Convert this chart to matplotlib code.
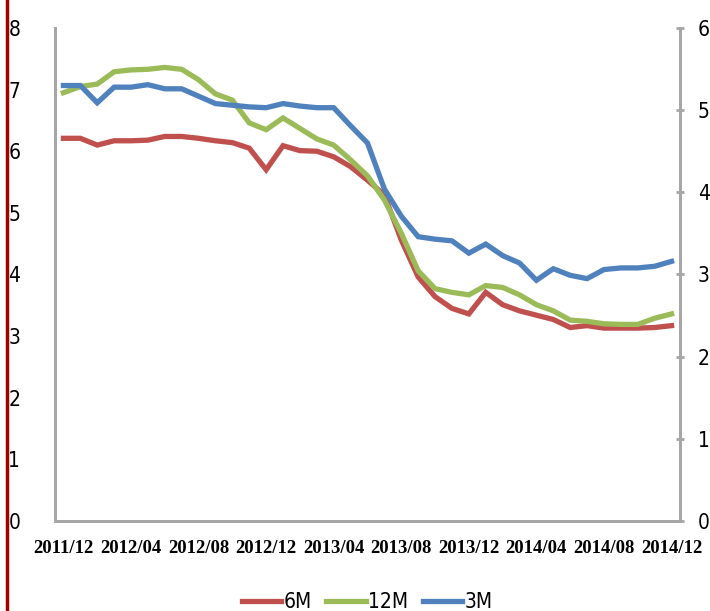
import numpy as np
import matplotlib
matplotlib.use("Agg")
import matplotlib.pyplot as plt
from matplotlib.lines import Line2D
from matplotlib.font_manager import FontProperties

# monthly, 2011/12 .. 2014/12
months = ["2011/12", "2012/01", "2012/02", "2012/03", "2012/04", "2012/05", "2012/06",
          "2012/07", "2012/08", "2012/09", "2012/10", "2012/11", "2012/12",
          "2013/01", "2013/02", "2013/03", "2013/04", "2013/05", "2013/06",
          "2013/07", "2013/08", "2013/09", "2013/10", "2013/11", "2013/12",
          "2014/01", "2014/02", "2014/03", "2014/04", "2014/05", "2014/06",
          "2014/07", "2014/08", "2014/09", "2014/10", "2014/11", "2014/12"]

# left axis
r6m = [6.21, 6.21, 6.10, 6.17, 6.17, 6.18, 6.24, 6.24, 6.21, 6.17, 6.14, 6.05, 5.70,
       6.09, 6.01, 6.00, 5.91, 5.75, 5.53, 5.29, 4.56, 3.96, 3.64, 3.45, 3.36,
       3.71, 3.51, 3.41, 3.34, 3.27, 3.14, 3.17, 3.13, 3.13, 3.13, 3.14, 3.17]
r12m = [6.95, 7.05, 7.09, 7.29, 7.32, 7.33, 7.36, 7.33, 7.16, 6.93, 6.83, 6.46, 6.35,
        6.54, 6.37, 6.20, 6.10, 5.86, 5.60, 5.21, 4.67, 4.06, 3.77, 3.71, 3.67,
        3.82, 3.79, 3.67, 3.51, 3.41, 3.26, 3.24, 3.20, 3.19, 3.19, 3.29, 3.36]
# right axis
r3m = [5.30, 5.30, 5.09, 5.28, 5.28, 5.31, 5.26, 5.26, 5.17, 5.08, 5.06, 5.04, 5.03,
       5.08, 5.05, 5.03, 5.03, 4.81, 4.60, 4.04, 3.71, 3.46, 3.43, 3.41, 3.26,
       3.37, 3.23, 3.14, 2.93, 3.07, 2.99, 2.95, 3.06, 3.08, 3.08, 3.10, 3.16]

c_red = "#C0504D"
c_green = "#9BBB59"
c_blue = "#4F81BD"
grey = "#A6A6A6"
lab_fp = FontProperties(family="DejaVu Sans", stretch="condensed", size=15)

fig = plt.figure(figsize=(7.1, 6.11), dpi=100)
ax = fig.add_axes([55/710, 1 - 521/611, 625/710, 493/611])
ax2 = ax.twinx()

x = np.arange(len(months))
lw = 3.8
ax.plot(x, r6m, color=c_red, lw=lw, solid_joinstyle="miter")
ax.plot(x, r12m, color=c_green, lw=lw, solid_joinstyle="miter")
ax2.plot(x, r3m, color=c_blue, lw=lw, solid_joinstyle="miter")

ax.set_xlim(-0.5, len(months) - 0.5)
ax.set_ylim(0, 8)
ax2.set_ylim(0, 6)

ax.set_xticks(x[::4])
ax.set_xticklabels(months[::4], family="Liberation Serif", weight="bold", fontsize=13.5)
ax.tick_params(axis="x", length=0, pad=14)
ax.set_yticks(range(0, 9))
ax.set_yticklabels([str(v) for v in range(0, 9)], fontproperties=lab_fp)
ax.tick_params(axis="y", length=0, pad=25)
ax2.set_yticks(range(0, 7))
ax2.set_yticklabels([str(v) for v in range(0, 7)], fontproperties=lab_fp)
ax2.tick_params(axis="y", direction="inout", length=6, width=2, color=grey, pad=10)

for a in (ax, ax2):
    a.spines["top"].set_visible(False)
    for s in ("left", "right", "bottom"):
        a.spines[s].set_color(grey)
        a.spines[s].set_linewidth(2)

# dark red border line on the left
fig.add_artist(Line2D([7/710, 7/710], [0, 1], color="#A00000", lw=2.5))

handles = [Line2D([], [], color=c_red, lw=lw),
           Line2D([], [], color=c_green, lw=lw),
           Line2D([], [], color=c_blue, lw=lw)]
fig.legend(handles, ["6M", "12M", "3M"], loc="center", bbox_to_anchor=(367/710, 1 - 602/611),
           ncol=3, frameon=False, prop=lab_fp,
           handlelength=1.9, handletextpad=0.1, columnspacing=0.7)

fig.savefig("out.png", dpi=100)
